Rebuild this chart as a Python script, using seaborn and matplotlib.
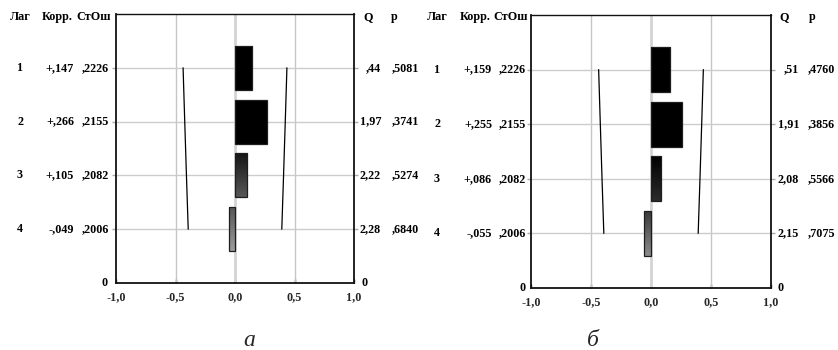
import numpy as np
import matplotlib
matplotlib.use("Agg")
import matplotlib.pyplot as plt
from matplotlib.colors import LinearSegmentedColormap
from matplotlib.transforms import blended_transform_factory
import seaborn as sns

# Autocorrelation tables for the two series
lags = [1, 2, 3, 4]
std_err = [0.2226, 0.2155, 0.2082, 0.2006]

corr_a = [0.147, 0.266, 0.105, -0.049]
q_a = [0.44, 1.97, 2.22, 2.28]
p_a = [0.5081, 0.3741, 0.5274, 0.6840]

corr_b = [0.159, 0.255, 0.086, -0.055]
q_b = [0.51, 1.91, 2.08, 2.15]
p_b = [0.4760, 0.3856, 0.5566, 0.7075]

x_ticks = [-1.0, -0.5, 0.0, 0.5, 1.0]
captions = ["а", "б"]

sns.set_theme(style="white")
plt.rcParams["font.family"] = ["Liberation Serif", "DejaVu Serif"]

W, H = 838, 350
fig = plt.figure(figsize=(W / 100, H / 100), dpi=100)


def ru_num(v, digits, plus=False):
    s = f"{abs(v):.{digits}f}"
    if s.startswith("0"):
        s = s[1:]
    s = s.replace(".", ",")
    if v < 0:
        s = "-" + s
    elif plus:
        s = "+" + s
    return s


# shading of each bar (top colour, bottom colour)
shades_a = [("#000000", "#000000"), ("#000000", "#000000"),
            ("#141414", "#575757"), ("#555555", "#9c9c9c")]
shades_b = [("#000000", "#000000"), ("#000000", "#000000"),
            ("#000000", "#2c2c2c"), ("#3a3a3a", "#8c8c8c")]

FS = 8.7


def panel(box, corr, q, p, shades, cols, caption, cap_xy):
    left, top, right, bottom = box
    ax = fig.add_axes([left / W, 1 - bottom / H, (right - left) / W, (bottom - top) / H])
    ypos = [5 - k for k in lags]

    sns.barplot(x=corr, y=ypos, orient="h", native_scale=True, color="black",
                width=0.82, linewidth=0.9, edgecolor="#1e1e1e", ax=ax, zorder=3)

    # gradient fill clipped to every bar
    for patch in list(ax.patches):
        x0, y0 = patch.get_x(), patch.get_y()
        w, h = patch.get_width(), patch.get_height()
        idx = int(round(5 - (y0 + h / 2))) - 1
        c_top, c_bot = shades[idx]
        cmap = LinearSegmentedColormap.from_list("g", [c_top, c_bot])
        grad = np.linspace(0, 1, 64).reshape(-1, 1)
        im = ax.imshow(grad, cmap=cmap, aspect="auto", origin="upper",
                       extent=[min(x0, x0 + w), max(x0, x0 + w), y0, y0 + h],
                       zorder=3.5, interpolation="bilinear")
        im.set_clip_path(patch)
        patch.set_facecolor("none")
        patch.set_zorder(4)

    # confidence limits
    lim = [1.96 * s for s in std_err]
    ax.plot(lim, ypos, color="black", lw=0.9, zorder=2)
    ax.plot([-v for v in lim], ypos, color="black", lw=0.9, zorder=2)

    ax.set_xlim(-1, 1)
    ax.set_ylim(0, 5)
    ax.set_xlabel("")
    ax.set_ylabel("")

    # grid
    for gx in (-0.5, 0.5):
        ax.axvline(gx, color="#c6c6c6", lw=1.0, zorder=1)
    ax.axvline(0, color="#d4d4d4", lw=2.0, zorder=1)
    for gy in ypos:
        ax.axhline(gy, color="#cccccc", lw=1.0, zorder=1)

    ax.set_xticks(x_ticks)
    ax.set_xticklabels([("%.1f" % v).replace(".", ",") for v in x_ticks],
                       fontsize=FS, fontweight="bold")
    ax.tick_params(axis="x", direction="in", length=3, width=1, color="#333333",
                   pad=6, bottom=True)
    ax.set_yticks(ypos)
    ax.set_yticklabels([])
    ax.tick_params(axis="y", direction="out", length=3, width=1, color="#aaaaaa",
                   left=True, right=True)
    for sp in ax.spines.values():
        sp.set_color("#111111")
        sp.set_linewidth(1.3)
    ax.spines["top"].set_linewidth(1.0)

    tr = blended_transform_factory(fig.transFigure, ax.transData)
    kw = dict(fontsize=FS, fontweight="bold", va="center", transform=tr, color="black")
    x_lag, x_corr, x_se, x_qh, x_ph, x_q, x_p, x_z0l, x_z0r, y_head = cols
    fig.text(x_lag / W, y_head, "Лаг", ha="center", **kw)
    fig.text((x_corr - 17) / W, y_head, "Корр.", ha="center", **kw)
    fig.text((x_se - 15) / W, y_head, "СтОш", ha="center", **kw)
    fig.text(x_qh / W, y_head, "Q", ha="center", **kw)
    fig.text(x_ph / W, y_head, "p", ha="center", **kw)
    for k, c, s, qq, pp in zip(lags, corr, std_err, q, p):
        y = 5 - k
        fig.text(x_lag / W, y, str(k), ha="center", **kw)
        fig.text(x_corr / W, y, ru_num(c, 3, plus=True), ha="right", **kw)
        fig.text(x_se / W, y, ru_num(s, 4), ha="right", **kw)
        fig.text(x_q / W, y, ru_num(qq, 2), ha="right", **kw)
        fig.text(x_p / W, y, ru_num(pp, 4), ha="left", **kw)
    fig.text(x_z0l / W, 0, "0", ha="center", **kw)
    fig.text(x_z0r / W, 0, "0", ha="center", **kw)

    fig.text(cap_xy[0] / W, 1 - cap_xy[1] / H, caption, ha="center", va="center",
             fontsize=17, fontstyle="italic", family=["Liberation Serif", "DejaVu Serif"])
    return ax


panel((116, 14, 354, 283), corr_a, q_a, p_a, shades_a,
      (20, 74, 109, 368, 394, 381, 392, 105, 365, 4.94), captions[0], (249, 341))
panel((531, 15, 771, 288), corr_b, q_b, p_b, shades_b,
      (437, 492, 526, 784, 812, 799, 808, 523, 781, 4.96), captions[1], (593, 341))

fig.savefig("out.png", dpi=100)
